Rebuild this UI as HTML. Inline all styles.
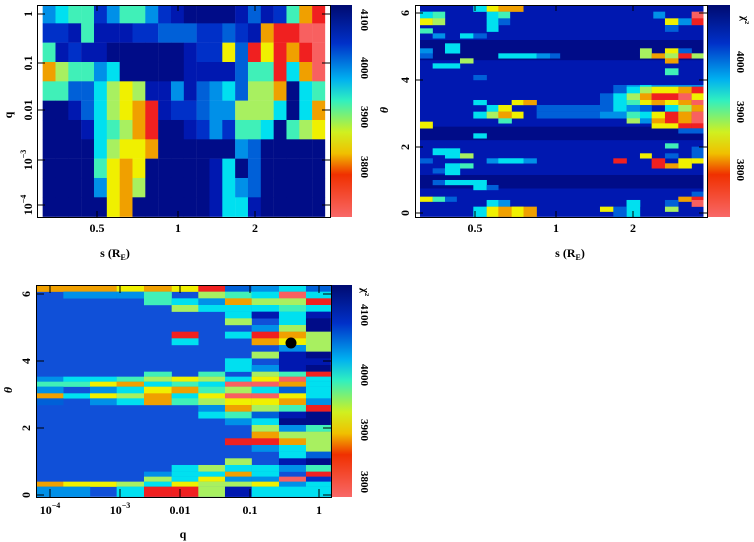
<!DOCTYPE html>
<html><head><meta charset="utf-8"><style>
body{margin:0;background:#fff;width:754px;height:542px;overflow:hidden}
svg{display:block;font-family:"Liberation Serif",serif;font-weight:bold}
</style></head><body>
<svg id="s" width="754" height="542" viewBox="0 0 754 542" xmlns="http://www.w3.org/2000/svg">
<defs>
<linearGradient id="cb" x1="0" y1="0" x2="0" y2="1">
<stop offset="0" stop-color="#000a70"/><stop offset="0.18" stop-color="#0030c8"/><stop offset="0.35" stop-color="#00b0f0"/><stop offset="0.45" stop-color="#30f0c0"/><stop offset="0.6" stop-color="#d0f020"/><stop offset="0.7" stop-color="#f0c000"/><stop offset="0.8" stop-color="#f03000"/><stop offset="1" stop-color="#f86868"/>
</linearGradient>
</defs>
<g id="p1" transform="scale(0.3333)"></g>
<g id="p2" transform="translate(360,0) scale(0.3333)"></g>
<g id="p3" transform="translate(0,280) scale(0.3333)"></g>
<circle cx="291" cy="343" r="5.5" fill="#000"/>
<g fill="none" stroke="#000" stroke-width="1">
<rect x="37.5" y="5.5" width="293" height="212"/>
<rect x="415.5" y="5.5" width="292" height="212"/>
<rect x="36.5" y="285.5" width="295" height="212"/>
</g>
<rect x="331" y="5" width="21" height="212" fill="url(#cb)"/>
<rect x="708" y="5" width="22" height="212" fill="url(#cb)"/>
<rect x="332" y="285" width="20" height="212" fill="url(#cb)"/>
<g font-size="12" text-anchor="middle">
<text x="97" y="232">0.5</text><text x="178" y="232">1</text><text x="255" y="232">2</text>
<text x="115" y="257">s (R<tspan font-size="8" dy="3">E</tspan><tspan dy="-3">)</tspan></text>
<text x="475" y="232">0.5</text><text x="556" y="232">1</text><text x="633" y="232">2</text>
<text x="570" y="257">s (R<tspan font-size="8" dy="3">E</tspan><tspan dy="-3">)</tspan></text>
<text x="50" y="514">10<tspan font-size="8" dy="-6">−4</tspan></text>
<text x="120" y="514">10<tspan font-size="8" dy="-6">−3</tspan></text>
<text x="180" y="514">0.01</text><text x="250" y="514">0.1</text><text x="319" y="514">1</text>
<text x="183" y="538">q</text>
</g>
<g font-size="12" text-anchor="middle">
<text transform="translate(32,14) rotate(-90)">1</text>
<text transform="translate(32,63) rotate(-90)">0.1</text>
<text transform="translate(32,110) rotate(-90)">0.01</text>
<text transform="translate(32,160) rotate(-90)">10<tspan font-size="8" dy="-6">−3</tspan></text>
<text transform="translate(32,205) rotate(-90)">10<tspan font-size="8" dy="-6">−4</tspan></text>
<text transform="translate(12,115) rotate(-90)">q</text>
<text transform="translate(409,213) rotate(-90)">0</text>
<text transform="translate(409,147) rotate(-90)">2</text>
<text transform="translate(409,80) rotate(-90)">4</text>
<text transform="translate(409,13) rotate(-90)">6</text>
<text transform="translate(388,110) rotate(-90)" font-style="italic">θ</text>
<text transform="translate(30,495) rotate(-90)">0</text>
<text transform="translate(30,428) rotate(-90)">2</text>
<text transform="translate(30,361) rotate(-90)">4</text>
<text transform="translate(30,294) rotate(-90)">6</text>
<text transform="translate(12,390) rotate(-90)" font-style="italic">θ</text>
</g>
<g font-size="11" text-anchor="middle">
<text transform="translate(361,20) rotate(90)">4100</text><text transform="translate(361,68) rotate(90)">4000</text><text transform="translate(361,117) rotate(90)">3900</text><text transform="translate(361,167) rotate(90)">3800</text>
<text transform="translate(737,62) rotate(90)">4000</text><text transform="translate(737,112) rotate(90)">3900</text><text transform="translate(737,170) rotate(90)">3800</text>
<text transform="translate(742,20) rotate(90)">χ²</text>
<text transform="translate(361,315) rotate(90)">4100</text><text transform="translate(361,375) rotate(90)">4000</text><text transform="translate(361,430) rotate(90)">3900</text><text transform="translate(361,482) rotate(90)">3800</text>
<text transform="translate(362,292) rotate(90)">χ²</text>
</g>
</svg>
<script>
var C={N:"#000c88",B:"#0018b0",b:"#0030c8",m:"#0060d8",l:"#0090e8",c:"#00e0f0",t:"#40f0b8",g:"#a8f060",y:"#f0f000",o:"#f0a000",r:"#f02020",p:"#f86060",M:"#1050d8"};
var NS="http://www.w3.org/2000/svg";
function R(g,x,y,w,h,c){var e=document.createElementNS(NS,"rect");e.setAttribute("x",x);e.setAttribute("y",y);e.setAttribute("width",w+0.6);e.setAttribute("height",h+0.6);e.setAttribute("fill",C[c]||c);document.getElementById(g).appendChild(e);}
var g1=["lcttblttlbBNNNNBmBbtor","bbBtBBBbbmmmbbmbBorrpp","tBbBBNNNNNNBbbymryrorp","ogttlcNNNNNBBBBmttrcop","ttmmcgygBBlBmlcmggoNct","NNBmcgyorBbbmllgggcNco","NNNBctgorNNBblbttcNtgy","NNNNcgyyoNNNNNNlmNNNNN","NNNNtyoyNNNNNBcNmNNNNN","NNNNlyogNNNNNBclmNNNNN","NNNNNyoNNNNNNBccBNNNNN"];
for(var r=0;r<11;r++){var y0=r==0?15:70+(r-1)*58,h=r==0?55:58;for(var i=0;i<22;i++)R("p1",128+i*38.5,y0,38.5,h,g1[r][i]);}
R("p2",180,15,850,635,"B");
[[180,120,850,60,"N"],[180,380,850,40,"N"],[180,525,850,40,"N"],
[340,15,40,20,"c"],[380,15,35,20,"y"],[415,15,75,20,"o"],
[180,35,38,20,"c"],[218,35,37,20,"t"],[380,35,35,20,"c"],[415,35,35,20,"t"],[995,35,35,20,"p"],[880,35,35,20,"l"],
[180,55,38,20,"y"],[218,55,37,20,"g"],[380,55,35,20,"c"],[415,55,35,20,"m"],[915,55,40,20,"y"],[955,55,40,20,"l"],[995,55,35,20,"r"],
[380,75,35,20,"c"],[915,75,40,20,"m"],[180,85,38,15,"t"],[218,100,37,15,"l"],[300,100,40,15,"c"],[340,100,40,15,"m"],
[255,130,45,30,"c"],[180,145,38,15,"l"],[840,145,35,30,"g"],[915,145,40,15,"y"],[955,145,40,15,"m"],
[180,160,38,15,"m"],[415,160,115,15,"c"],[530,160,40,15,"l"],[570,160,30,15,"m"],[875,160,40,15,"o"],[915,160,40,15,"g"],[955,160,40,15,"r"],[995,160,35,15,"g"],
[300,175,40,15,"g"],[915,175,40,15,"o"],[218,190,37,15,"c"],[255,190,45,15,"c"],[915,205,40,20,"t"],[340,225,40,15,"m"],
[760,255,40,15,"m"],[800,255,40,15,"l"],[840,255,35,15,"c"],[875,255,155,15,"l"],
[760,270,40,10,"m"],[800,260,40,20,"c"],[840,260,35,20,"g"],[875,260,40,20,"y"],[915,260,40,20,"y"],[955,260,40,20,"o"],[995,260,35,20,"r"],
[720,280,40,20,"m"],[760,280,40,20,"c"],[800,280,40,20,"g"],[840,280,35,20,"o"],[875,280,40,20,"r"],[915,280,40,20,"r"],[955,280,40,20,"p"],[995,280,35,20,"y"],
[340,300,40,15,"c"],[455,300,35,15,"y"],[490,300,40,15,"o"],[720,300,40,15,"m"],[760,300,40,15,"c"],[800,300,40,15,"t"],[840,300,35,15,"y"],[875,300,40,15,"o"],[915,300,40,15,"y"],[955,300,40,15,"o"],[995,300,35,15,"p"],
[380,315,35,20,"c"],[415,315,40,20,"y"],[530,315,190,20,"m"],[720,315,40,20,"m"],[760,315,40,20,"c"],[800,315,40,20,"l"],[840,315,35,20,"m"],[915,315,40,20,"c"],[955,315,40,20,"g"],[995,315,35,20,"o"],
[340,335,40,20,"c"],[380,335,35,20,"g"],[415,335,40,20,"o"],[455,335,35,20,"y"],[530,335,190,20,"m"],[720,335,80,20,"l"],[800,335,40,20,"t"],[840,335,35,20,"c"],[875,335,40,20,"y"],[915,335,40,20,"r"],[955,335,40,20,"o"],[995,335,35,20,"p"],
[415,355,40,15,"t"],[800,355,40,15,"g"],[840,355,35,15,"l"],[875,355,40,15,"o"],[915,355,40,15,"r"],[955,355,40,15,"o"],[995,355,35,15,"p"],
[180,365,38,20,"y"],[875,370,80,15,"y"],[955,370,40,15,"r"],[995,370,35,15,"r"],[955,385,75,15,"m"],
[340,400,40,15,"c"],[915,430,40,15,"t"],[218,445,37,20,"c"],[255,445,45,30,"c"],[300,460,40,15,"g"],[840,460,35,15,"y"],[915,460,40,15,"m"],[995,440,35,35,"m"],
[180,475,38,15,"m"],[380,475,150,15,"l"],[415,475,75,15,"c"],[760,475,40,15,"r"],[875,475,40,30,"r"],[955,475,40,30,"y"],[995,475,35,15,"y"],
[255,490,45,15,"c"],[300,490,40,15,"t"],[915,490,40,15,"o"],[218,505,37,15,"m"],[255,505,45,20,"c"],
[218,540,37,15,"m"],[255,540,85,15,"c"],[340,540,40,30,"c"],[380,555,35,15,"m"],[995,575,35,15,"m"],
[180,590,38,15,"y"],[218,590,37,15,"t"],[255,590,35,15,"m"],[955,590,40,15,"o"],[995,590,35,15,"r"],
[380,600,35,20,"c"],[415,600,35,20,"l"],[800,600,40,20,"c"],[915,600,40,20,"m"],[995,600,35,20,"p"],
[340,620,40,30,"c"],[380,620,35,30,"y"],[415,620,115,30,"o"],[455,620,35,30,"y"],[720,620,40,15,"y"],[760,620,40,30,"m"],[800,600,40,50,"c"],[915,620,40,15,"g"]
].forEach(function(a){R("p2",a[0],a[1],a[2],a[3],a[4]);});
R("p3",108,15,884,635,"M");
var X=[108,190,270,350,432,515,595,675,755,837,918,992];
function row(y,h,s){for(var i=0;i<11;i++){var c=s[i];if(c&&c!=".")R("p3",X[i],y,X[i+1]-X[i],h,c);}}
row(15,20,"oooyoyrmlcm");row(35,20,".lllt.gtcpc");row(55,20,"....tcloggr");
row(75,20,".....gccctc");row(95,20,".......cBcB");row(115,20,".......g.cN");row(135,20,"........lgN");
row(155,20,".....r.crog");row(175,20,".....c..oyg");row(195,20,".........lg");row(215,20,"........gBN");
row(235,20,".......c.BB");row(255,20,".......clBN");row(275,15,"....t.t.gtr");
row(290,15,"lcctgygcypc");row(305,15,"ttyoctcppoc");row(320,20,"l.lcyotgcmc");row(340,15,"ocygocyppyc");
row(355,20,"m.lcotgyyol");row(375,20,"......logtr");row(395,20,"......ctmBN");row(415,20,".......lcNN");
row(435,20,"........glt");row(455,20,"........ogg");row(475,20,".......rrog");row(495,20,"........lcg");
row(515,20,".........cm");row(535,20,".......g.BN");row(555,20,".....cgcclt");row(575,15,"....lccoc.r");
row(590,15,"....gcyllpb");row(605,15,"oyygcyggylc");row(620,30,"ll.crrgBccc");
var s=document.getElementById("s");
function L(x1,y1,x2,y2){var e=document.createElementNS(NS,"line");e.setAttribute("x1",x1);e.setAttribute("y1",y1);e.setAttribute("x2",x2);e.setAttribute("y2",y2);e.setAttribute("stroke","#000");s.appendChild(e);}
[97,178,255].forEach(function(x){L(x,5,x,11);L(x,217,x,211);});
[14,63,110,160,205].forEach(function(y){L(37,y,45,y);L(330,y,322,y);});
[475,556,633].forEach(function(x){L(x,5,x,11);L(x,217,x,211);});
[213,147,80,13].forEach(function(y){L(415,y,423,y);L(707,y,699,y);});
[50,120,180,250,319].forEach(function(x){L(x,285,x,293);L(x,497,x,489);});
[495,428,361,294].forEach(function(y){L(36,y,44,y);L(331,y,323,y);});
</script>
</body></html>
